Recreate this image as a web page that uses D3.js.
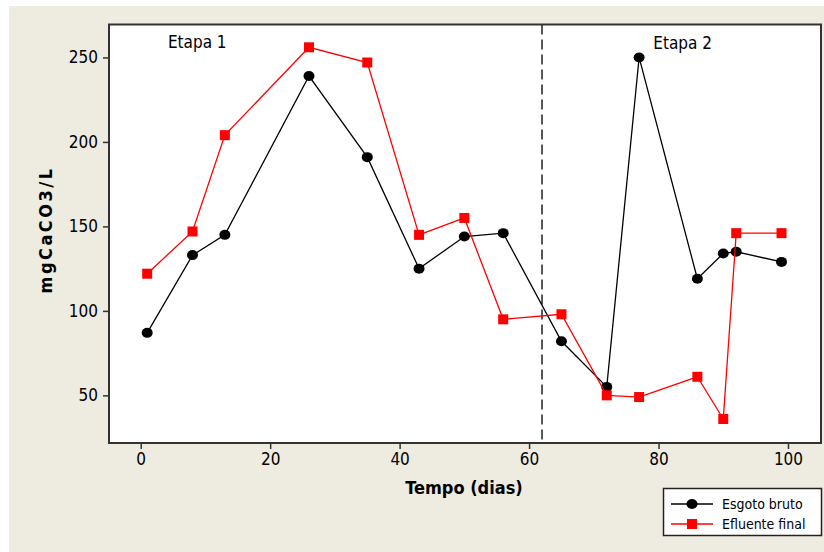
<!DOCTYPE html>
<html>
<head>
<meta charset="utf-8">
<script src="https://cdn.jsdelivr.net/npm/d3@7"></script>
<style>
  html, body { margin: 0; padding: 0; background: #ffffff; }
  svg { display: block; }
  text { font-family: "DejaVu Sans Condensed", "DejaVu Sans", sans-serif; fill: #000; }
</style>
</head>
<body>
<svg id="chart" width="824" height="552"></svg>
<script>
// data
let days = [1, 8, 13, 26, 35, 43, 50, 56, 65, 72, 77, 86, 90, 92, 99];
let esgotoBruto = [87, 133, 145, 239, 191, 125, 144, 146, 82, 55, 250, 119, 134, 135, 129];
let efluenteFinal = [122, 147, 204, 256, 247, 145, 155, 95, 98, 50, 49, 61, 36, 146, 146];
let xTicks = [0, 20, 40, 60, 80, 100];
let yTicks = [50, 100, 150, 200, 250];
let seriesNames = ["Esgoto bruto", "Efluente final"];
let stageLabels = ["Etapa 1", "Etapa 2"];
let stageBreak = 62;

let svg = d3.select("#chart");
let width = 824, height = 552;
let plot = {left: 109, right: 821, top: 24.5, bottom: 443};

// page background: white strip on top/left, beige panel
svg.append("rect").attr("width", width).attr("height", height).attr("fill", "#ffffff");
svg.append("rect").attr("x", 9).attr("y", 6).attr("width", width - 9).attr("height", height - 6)
    .attr("fill", "#eeebe1");

let x = d3.scaleLinear().domain([-4.9, 105.1]).range([plot.left, plot.right]);
let y = d3.scaleLinear().domain([21.8, 269.5]).range([plot.bottom, plot.top]);

svg.append("rect")
    .attr("x", plot.left).attr("y", plot.top)
    .attr("width", plot.right - plot.left).attr("height", plot.bottom - plot.top)
    .attr("fill", "#ffffff");

// axes
let xAxis = d3.axisBottom(x).tickValues(xTicks).tickSize(6).tickPadding(4);
let yAxis = d3.axisLeft(y).tickValues(yTicks).tickSize(6).tickPadding(5);

let gx = svg.append("g").attr("transform", "translate(0," + plot.bottom + ")").call(xAxis);
let gy = svg.append("g").attr("transform", "translate(" + plot.left + ",0)").call(yAxis);
[gx, gy].forEach(g => {
    g.select(".domain").remove();
    g.selectAll(".tick line").attr("stroke", "#333").attr("stroke-width", 1.5);
    g.selectAll(".tick text").style("font-size", "17px").attr("fill", "#111");
});

// dashed stage divider
svg.append("line")
    .attr("x1", x(stageBreak)).attr("x2", x(stageBreak))
    .attr("y1", plot.top).attr("y2", plot.bottom)
    .attr("stroke", "#222").attr("stroke-width", 1.5)
    .attr("stroke-dasharray", "10,5");

// series
let lineGen = d3.line().x(d => x(d[0])).y(d => y(d[1]));
let blackPts = days.map((d, i) => [d, esgotoBruto[i]]);
let redPts = days.map((d, i) => [d, efluenteFinal[i]]);

svg.append("path").datum(blackPts).attr("d", lineGen)
    .attr("fill", "none").attr("stroke", "#000").attr("stroke-width", 1.3);
svg.selectAll(".dotB").data(blackPts).enter().append("ellipse")
    .attr("cx", d => x(d[0])).attr("cy", d => y(d[1]))
    .attr("rx", 5.5).attr("ry", 5).attr("fill", "#000");

svg.append("path").datum(redPts).attr("d", lineGen)
    .attr("fill", "none").attr("stroke", "#ff0000").attr("stroke-width", 1.3);
svg.selectAll(".sqR").data(redPts).enter().append("rect")
    .attr("x", d => x(d[0]) - 5).attr("y", d => y(d[1]) - 5)
    .attr("width", 10).attr("height", 10).attr("fill", "#ff0000");

// frame
svg.append("rect")
    .attr("x", plot.left).attr("y", plot.top)
    .attr("width", plot.right - plot.left).attr("height", plot.bottom - plot.top)
    .attr("fill", "none").attr("stroke", "#333").attr("stroke-width", 2);

// stage labels
svg.append("text").attr("x", x(4.2)).attr("y", 48)
    .style("font-size", "17px").text(stageLabels[0]);
svg.append("text").attr("x", x(79.2)).attr("y", 49)
    .style("font-size", "17px").text(stageLabels[1]);

// axis titles
svg.append("text").attr("x", (plot.left + plot.right) / 2 - 1).attr("y", 494)
    .attr("text-anchor", "middle").style("font-size", "18px").style("font-weight", "bold")
    .text("Tempo (dias)");
svg.append("text").attr("transform", "translate(52,230) rotate(-90)")
    .attr("text-anchor", "middle").style("font-size", "18px").style("font-weight", "bold")
    .style("letter-spacing", "2.5px")
    .text("mgCaCO3/L");

// legend
let legend = svg.append("g");
legend.append("rect").attr("x", 663.5).attr("y", 488.5).attr("width", 158).attr("height", 47)
    .attr("fill", "#ffffff").attr("stroke", "#222").attr("stroke-width", 1.5);
let legendRows = [
    {name: seriesNames[0], color: "#000", y: 504},
    {name: seriesNames[1], color: "#ff0000", y: 524}
];
legendRows.forEach((r, i) => {
    legend.append("line").attr("x1", 671).attr("x2", 713).attr("y1", r.y).attr("y2", r.y)
        .attr("stroke", r.color).attr("stroke-width", 1.3);
    if (i === 0) {
        legend.append("ellipse").attr("cx", 692).attr("cy", r.y).attr("rx", 5.5).attr("ry", 5).attr("fill", r.color);
    } else {
        legend.append("rect").attr("x", 687).attr("y", r.y - 5).attr("width", 10).attr("height", 10).attr("fill", r.color);
    }
    legend.append("text").attr("x", 722).attr("y", r.y + 5).style("font-size", "14px").text(r.name);
});
</script>
</body>
</html>
